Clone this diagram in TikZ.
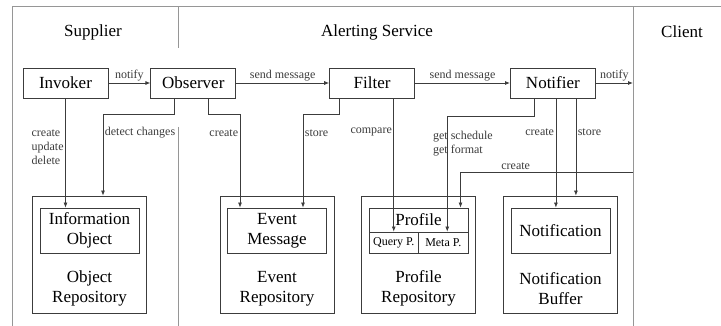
\documentclass[tikz,border=0pt]{standalone}
\usepackage{fontspec}
\setmainfont{Liberation Serif}
\newfontfamily\diagfont{Liberation Serif}
\usetikzlibrary{arrows.meta, positioning, calc}
\definecolor{mydark}{RGB}{60,60,60}
\definecolor{myframe}{RGB}{150,150,150}
\tikzset{
  block/.style={rectangle, draw=mydark, minimum width=85pt, minimum height=30pt,
    inner sep=0pt, font=\diagfont\fontsize{17}{20}\selectfont, line width=0.8pt},
  repo/.style={rectangle, draw=mydark, minimum width=114pt, minimum height=117pt,
    inner sep=0pt, line width=0.8pt},
  itembox/.style={rectangle, draw=mydark, minimum width=99pt, minimum height=45pt,
    inner sep=0pt, align=center, font=\diagfont\fontsize{17}{20}\selectfont, line width=0.8pt},
  partbox/.style={rectangle, draw=mydark, minimum width=49.5pt, minimum height=21pt,
    inner sep=0pt, font=\diagfont\fontsize{12}{14}\selectfont, line width=0.8pt},
  repotext/.style={align=center, inner sep=0pt, font=\diagfont\fontsize{17}{20}\selectfont},
  header/.style={inner sep=0pt, font=\diagfont\fontsize{17}{20}\selectfont},
  lbl/.style={inner sep=1.5pt, align=left, font=\diagfont\fontsize{12}{14}\selectfont},
  arrow/.style={-{Latex[length=5pt,width=4pt]}, line width=0.8pt, color=mydark},
  frameline/.style={line width=1pt, color=myframe}
}
\begin{document}
\begin{tikzpicture}[x=1pt, y=1pt]
  \useasboundingbox (0,0) rectangle (721,-326);
  % lanes
  \draw[frameline] (12,-326) -- (12,-7) -- (721,-7);
  \draw[frameline] (178,-7) -- (178,-48);
  \draw[frameline] (178,-127) -- (178,-326);
  \draw[frameline] (633,-7) -- (633,-326);
  \node[header] (hsup) at (93,-32) {Supplier};
  \node[header] (halert) at (377,-32) {Alerting Service};
  \node[header] (hclient) at (682,-32) {Client};

  % components
  \node[block] (invoker) at (65.5,-83) {Invoker};
  \node[block, right=42pt of invoker] (observer) {Observer};
  \node[block, right=93pt of observer] (filter) {Filter};
  \node[block, right=95pt of filter] (notifier) {Notifier};
  \coordinate (clientin) at (633,-83);
  \coordinate (clientout) at (633,-172);

  % repositories
  \node[repo] (objrepo) at (89.5,-254.5) {};
  \node[repo] (evrepo) at (277,-254.5) {};
  \node[repo] (profrepo) at (418.5,-254.5) {};
  \node[repo] (notifbuf) at (560.5,-254.5) {};
  \node[itembox, below=12pt of objrepo.north] (info) {Information\\Object};
  \node[itembox, below=12pt of evrepo.north] (evmsg) {Event\\Message};
  \node[itembox, below=12pt of profrepo.north] (prof) {};
  \node[itembox, below=12pt of notifbuf.north] (notif) {Notification};
  \node[partbox, anchor=south west] (query) at (prof.south west) {Query P.};
  \node[partbox, anchor=south east] (meta) at (prof.south east) {Meta P.};
  \node[header] (proftitle) at ($(prof.north)!0.5!(prof.north |- query.north)$) {Profile};
  \node[repotext] (objtitle) at ($(objrepo.center)+(0,-34)$) {Object\\Repository};
  \node[repotext] (evtitle) at ($(evrepo.center)+(0,-34)$) {Event\\Repository};
  \node[repotext] (proftitle2) at ($(profrepo.center)+(0,-34)$) {Profile\\Repository};
  \node[repotext] (buftitle) at ($(notifbuf.center)+(0,-34)$) {Notification\\Buffer};

  % messages
  \draw[arrow] (invoker.east) -- node[lbl, above] {notify} (observer.west);
  \draw[arrow] (observer.east) -- node[lbl, above] {send message} (filter.west);
  \draw[arrow] (filter.east) -- node[lbl, above] {send message} (notifier.west);
  \draw[arrow] (notifier.east) -- node[lbl, above] {notify} (clientin);

  % storage
  \draw[arrow] (invoker.south) -- node[lbl, left, pos=0.45] {create\\update\\delete} (invoker.south |- info.north);
  \draw[arrow] ([xshift=-19pt]observer.south) -- ++(0,-16)
    -| node[lbl, right, pos=0.61] {detect changes} ([xshift=13.5pt]objrepo.north);
  \draw[arrow] ([xshift=15.5pt]observer.south) -- ++(0,-16)
    -| node[lbl, left, pos=0.6] {create} ([xshift=-37pt]evmsg.north);
  \draw[arrow] ([xshift=-33pt]filter.south) -- ++(0,-16)
    -| node[lbl, right, pos=0.6] {store} ([xshift=26pt]evmsg.north);
  \draw[arrow] (filter.south -| query.north) -- node[lbl, left, pos=0.25] {compare} (query.north);
  \draw[arrow] ([xshift=-19pt]notifier.south) -- ++(0,-18)
    -| node[lbl, anchor=west, pos=0.62, xshift=-16pt] {get schedule\\get format} ([xshift=4pt]meta.north);
  \draw[arrow] ([xshift=3pt]notifier.south) -- node[lbl, left, pos=0.31] {create}
    ([xshift=3pt]notifier.south |- notif.north);
  \draw[arrow] ([xshift=23pt]notifier.south) -- node[lbl, right, pos=0.35] {store}
    ([xshift=23pt]notifier.south |- notifbuf.north);
  \draw[arrow] (clientout) -| node[lbl, above, pos=0.34] {create} ([xshift=42pt]prof.north);
\end{tikzpicture}
\end{document}
